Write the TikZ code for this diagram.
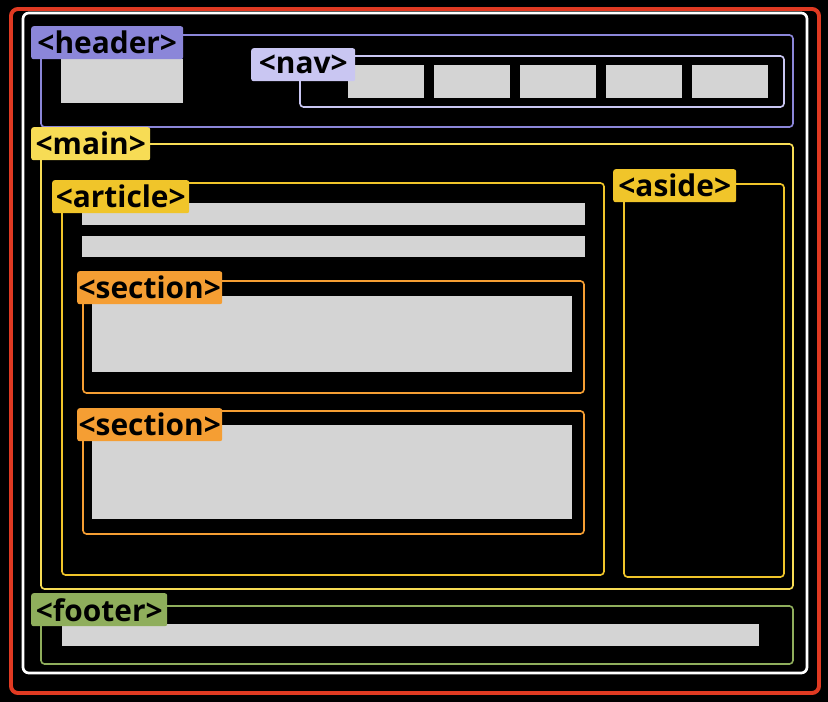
\documentclass[tikz,border=0pt]{standalone}
\usepackage{fontspec}
\setmainfont{Open Sans}
\definecolor{pagered}{HTML}{E03A22}
\definecolor{hdrfill}{HTML}{8B86D9}
\definecolor{navfill}{HTML}{C9C6F2}
\definecolor{mainfill}{HTML}{F7DC55}
\definecolor{artfill}{HTML}{F0C52A}
\definecolor{secfill}{HTML}{F59E33}
\definecolor{footfill}{HTML}{8FAE5C}
\definecolor{blockgrey}{HTML}{D4D4D4}
\tikzset{
	tagbox/.style={anchor=north west,rounded corners=2pt,inner sep=0pt,
		minimum height=0.99cm,text=black,
		font=\bfseries\fontsize{25.5}{25.5}\selectfont},
	boxline/.style={line width=1.4pt,rounded corners=3pt}
}
\begin{document}
\begin{tikzpicture}[x=0.03cm,y=-0.03cm]
	\fill[black] (0,0) rectangle (828,702);
	\useasboundingbox (0,0) rectangle (828,702);
	\draw[pagered,line width=3.4pt,rounded corners=6pt] (11,9) rectangle (819,693);
	\draw[white,line width=2.3pt,rounded corners=5pt] (23,13) rectangle (807,673);
	\draw[boxline,hdrfill] (41,35) rectangle (793,127);
	\fill[blockgrey] (61,59) rectangle (183,103);
	\draw[boxline,navfill] (300,56) rectangle (784,107);
	\foreach \x in {348,434,520,606,692}
		\fill[blockgrey] (\x,65) rectangle ++(76,33);
	\draw[boxline,mainfill] (41,144) rectangle (793,589);
	\draw[boxline,artfill] (62,183) rectangle (604,575);
	\fill[blockgrey] (82,203) rectangle (585,225);
	\fill[blockgrey] (82,236) rectangle (585,257);
	\draw[boxline,secfill] (83,281) rectangle (584,393);
	\fill[blockgrey] (92,296) rectangle (572,372);
	\draw[boxline,secfill] (83,411) rectangle (584,534);
	\fill[blockgrey] (92,425) rectangle (572,519);
	\draw[boxline,artfill] (624,184) rectangle (784,577);
	\draw[boxline,footfill] (41,606) rectangle (793,664);
	\fill[blockgrey] (62,624) rectangle (759,646);
	\node[tagbox,fill=hdrfill,minimum width=4.56cm] (header) at (31,26) {<header>};
	\node[tagbox,fill=navfill,minimum width=3.12cm] (nav) at (251,48) {<nav>};
	\node[tagbox,fill=mainfill,minimum width=3.57cm] (main) at (31,127) {<main>};
	\node[tagbox,fill=artfill,minimum width=4.11cm] (article) at (52,180) {<article>};
	\node[tagbox,fill=secfill,minimum width=4.35cm] (sectionA) at (77,271) {<section>};
	\node[tagbox,fill=secfill,minimum width=4.35cm] (sectionB) at (77,408) {<section>};
	\node[tagbox,fill=artfill,minimum width=3.69cm] (aside) at (613,169) {<aside>};
	\node[tagbox,fill=footfill,minimum width=4.08cm] (footer) at (31,593) {<footer>};
\end{tikzpicture}
\end{document}
